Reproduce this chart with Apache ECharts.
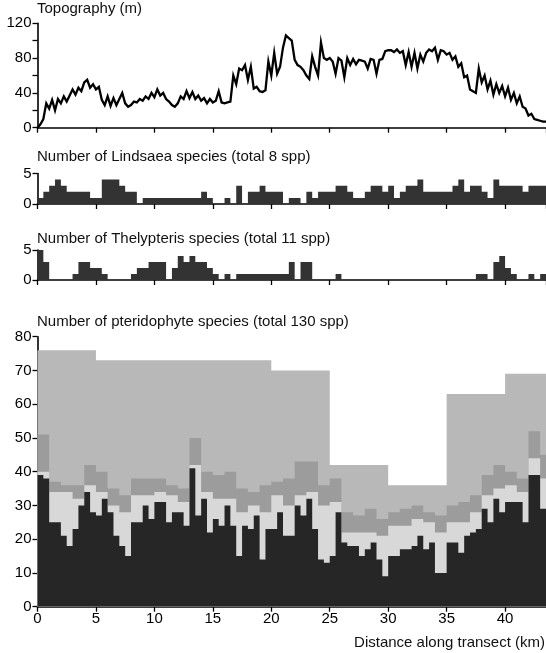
<!DOCTYPE html>
<html>
<head>
<meta charset="utf-8">
<script src="https://cdn.jsdelivr.net/npm/echarts@6/dist/echarts.min.js"></script>
<style>
  html, body { margin: 0; padding: 0; background: #fff; }
  #chart { width: 546px; height: 653px; }
</style>
</head>
<body>
<div id="chart"></div>
<script>
// distance along transect, km
var XMAX = 43.5;
var xTicks = [0, 5, 10, 15, 20, 25, 30, 35, 40];

// topography (m), one reading every 0.25 km
var topoStep = 0.25;
var topography = [
  0, 4, 10, 28, 22, 32, 20, 33, 28, 36, 30, 37, 44, 38, 46, 42, 52, 55, 46, 50,
  44, 47, 32, 26, 36, 25, 34, 26, 33, 40, 28, 24, 26, 30, 29, 33, 31, 36, 33, 40,
  35, 44, 37, 40, 33, 30, 26, 24, 28, 36, 33, 42, 34, 41, 33, 37, 31, 34, 28, 33,
  29, 31, 42, 29, 28, 29, 30, 60, 50, 68, 66, 72, 55, 70, 45, 47, 42, 41, 43, 76,
  60, 86, 62, 70, 92, 106, 103, 100, 78, 72, 70, 66, 60, 56, 82, 70, 60, 98, 80, 78,
  80, 76, 62, 80, 77, 58, 80, 72, 79, 73, 78, 77, 76, 68, 79, 78, 62, 78, 79, 88,
  89, 89, 87, 90, 86, 88, 72, 87, 70, 86, 68, 84, 76, 86, 90, 88, 92, 78, 89, 88,
  84, 86, 78, 82, 70, 74, 58, 60, 44, 42, 40, 68, 52, 60, 44, 54, 38, 50, 40, 48,
  36, 46, 32, 40, 28, 36, 24, 22, 14, 16, 10, 9, 8, 7, 7
];

// species counts per 0.5 km subunit
var binStep = 0.5;
var lindsaea = [
  1, 2, 3, 4, 3, 2, 2, 2, 2, 1, 1, 4, 4, 4, 3, 2, 2, 0, 1, 1,
  1, 1, 1, 1, 1, 1, 1, 1, 2, 1, 0, 0, 1, 0, 3, 0, 2, 2, 3, 2,
  2, 2, 0, 1, 1, 0, 2, 1, 2, 2, 2, 3, 3, 2, 1, 1, 2, 3, 3, 2,
  3, 1, 2, 3, 3, 4, 2, 2, 2, 2, 2, 3, 4, 2, 3, 3, 2, 1, 4, 3,
  3, 3, 3, 2, 3, 3, 3
];
var thelypteris = [
  5, 3, 0, 0, 0, 0, 1, 3, 3, 2, 2, 1, 0, 0, 0, 0, 1, 2, 2, 3,
  3, 3, 0, 2, 4, 3, 4, 3, 3, 2, 1, 0, 1, 0, 1, 1, 1, 1, 1, 1,
  1, 1, 1, 3, 0, 3, 3, 0, 0, 0, 0, 1, 0, 0, 0, 0, 0, 0, 0, 0,
  0, 0, 0, 0, 0, 0, 0, 0, 0, 0, 0, 0, 0, 0, 0, 1, 1, 0, 3, 4,
  2, 1, 0, 0, 1, 0, 1
];
var pteridoHalfKm = [
  39, 38, 25, 25, 21, 18, 23, 30, 34, 28, 27, 32, 28, 21, 18, 15, 25, 25, 30, 26,
  31, 31, 25, 28, 28, 24, 41, 27, 32, 22, 26, 24, 30, 24, 15, 24, 23, 27, 14, 23,
  23, 28, 21, 21, 30, 27, 32, 23, 14, 13, 15, 28, 19, 18, 18, 15, 17, 19, 14, 9,
  15, 15, 17, 17, 18, 21, 17, 19, 10, 10, 19, 19, 16, 21, 22, 23, 29, 25, 32, 28,
  31, 31, 31, 25, 39, 39, 29
];

// pteridophytes accumulated over 1 km
var kmStep = 1;
var pteridoKmLight = [
  40, 34, 34, 32, 36, 34, 30, 28, 33, 33, 34, 33, 31, 42, 34, 32, 32, 28, 30, 28,
  33, 30, 33, 34, 30, 31, 22, 22, 22, 21, 24, 24, 26, 25, 22, 25, 25, 28, 33, 35,
  36, 34, 44, 38
];
var pteridoKmMid = [
  51, 37, 36, 36, 42, 40, 35, 33, 38, 38, 38, 36, 35, 50, 40, 39, 40, 35, 34, 36,
  37, 38, 43, 43, 36, 38, 28, 27, 29, 26, 28, 29, 30, 28, 27, 30, 31, 33, 39, 42,
  40, 38, 52, 45
];

// pteridophytes accumulated over 5 km
var blockStep = 5;
var pterido5km = [76, 73, 73, 73, 70, 42, 36, 63, 69];

function steps(vals, w) {
  var d = vals.map(function (v, i) { return [i * w, v]; });
  d.push([XMAX, vals[vals.length - 1]]);
  return d;
}

var FONT = 'Liberation Sans';
var INK = '#000';

// panel layout: top & height in px, y range
var panels = [
  { top: 23.3, height: 104.4, max: 120, interval: 20, labelEvery: 40 },
  { top: 173.5, height: 30.5, max: 5, interval: 5, labelEvery: 5 },
  { top: 250, height: 30, max: 5, interval: 5, labelEvery: 5 },
  { top: 336.7, height: 270, max: 80, interval: 10, labelEvery: 10 }
];

var grids = [], xAxes = [], yAxes = [];
panels.forEach(function (p, i) {
  grids.push({ left: 37.5, right: 0, top: p.top, height: p.height });
  xAxes.push({
    type: 'value', gridIndex: i, min: 0, max: XMAX, interval: 5,
    axisLine: { show: true, lineStyle: { color: INK, width: 1.6 } },
    axisTick: { show: true, length: 5, lineStyle: { color: INK, width: 1.3 } },
    axisLabel: {
      show: i === 3, color: INK, fontFamily: FONT, fontSize: 15, margin: 5,
      showMaxLabel: false,
      formatter: function (v) { return xTicks.indexOf(v) >= 0 ? String(v) : ''; }
    },
    splitLine: { show: false }
  });
  yAxes.push({
    type: 'value', gridIndex: i, min: 0, max: p.max, interval: p.interval,
    axisLine: { show: true, lineStyle: { color: INK, width: 1.6 } },
    axisTick: { show: true, length: 5, lineStyle: { color: INK, width: 1.3 } },
    axisLabel: {
      color: INK, fontFamily: FONT, fontSize: 15, margin: 6,
      formatter: function (v) { return v % p.labelEvery === 0 ? String(v) : ''; }
    },
    splitLine: { show: false }
  });
});

function area(name, data, axis, color) {
  return {
    name: name, type: 'line', step: 'end', data: data,
    xAxisIndex: axis, yAxisIndex: axis,
    symbol: 'none', silent: true,
    lineStyle: { width: 0 },
    areaStyle: { color: color, opacity: 1 }
  };
}

var chart = echarts.init(document.getElementById('chart'), null, { renderer: 'canvas' });
chart.setOption({
  animation: false,
  backgroundColor: '#fff',
  title: [
    { text: 'Topography (m)', left: 37, top: 1 },
    { text: 'Number of Lindsaea species (total 8 spp)', left: 37, top: 149 },
    { text: 'Number of Thelypteris species (total 11 spp)', left: 37, top: 231 },
    { text: 'Number of pteridophyte species (total 130 spp)', left: 37, top: 314 },
    { text: 'Distance along transect (km)', right: 1, top: 635 }
  ].map(function (t) {
    t.padding = 0;
    t.textStyle = { fontFamily: FONT, fontSize: 15, fontWeight: 'normal', color: '#111' };
    return t;
  }),
  grid: grids,
  xAxis: xAxes,
  yAxis: yAxes,
  series: [
    {
      name: 'Topography', type: 'line', xAxisIndex: 0, yAxisIndex: 0,
      data: topography.map(function (v, i) { return [i * topoStep, v]; }),
      symbol: 'none', silent: true,
      lineStyle: { color: '#000', width: 2.3, join: 'miter' }
    },
    area('Lindsaea', steps(lindsaea, binStep), 1, '#333333'),
    area('Thelypteris', steps(thelypteris, binStep), 2, '#333333'),
    area('5 km', steps(pterido5km, blockStep), 3, '#b8b8b8'),
    area('1 km', steps(pteridoKmMid, kmStep), 3, '#9c9c9c'),
    area('1 km light', steps(pteridoKmLight, kmStep), 3, '#d8d8d8'),
    area('0.5 km', steps(pteridoHalfKm, binStep), 3, '#262626')
  ]
});
</script>
</body>
</html>
